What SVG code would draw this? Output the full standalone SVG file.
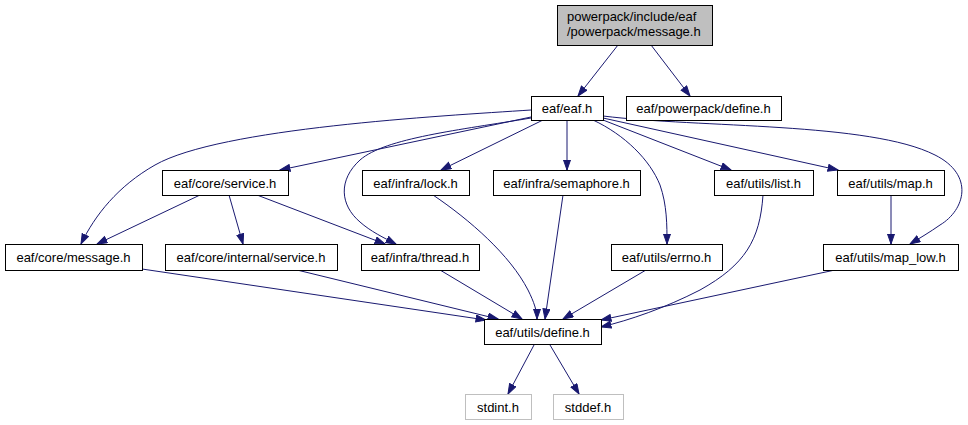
<svg xmlns="http://www.w3.org/2000/svg" width="968" height="425" viewBox="0 0 968 425">
<style>
.n rect{fill:#fff;stroke:#000;stroke-width:1}
.n text{font-family:"Liberation Sans",Arial,sans-serif;font-size:13px;fill:#000;text-anchor:middle}
.root rect{fill:#bfbfbf}
.root text{text-anchor:start}
.ext rect{stroke:#bfbfbf}
#edges path{fill:none;stroke:#191970;stroke-width:1;marker-end:url(#a)}
</style>
<defs>
<marker id="a" markerWidth="12" markerHeight="10" refX="10.5" refY="4" orient="auto" markerUnits="userSpaceOnUse">
<path d="M0.5,0.5L10.5,4L0.5,7.5z" fill="#191970" stroke="#191970" stroke-width="1"/>
</marker>
</defs>
<rect width="968" height="425" fill="#fff"/>
<g id="edges">
<path d="M618,45L578,96"/>
<path d="M651,45L690,96"/>
<path d="M531,110C440,116 220,128 155,165C118,186 95,215 81,244"/>
<path d="M531,117L280,170"/>
<path d="M531,118C460,130 385,138 360,160C338,180 340,205 360,222C370,231 384,238 396,244"/>
<path d="M543,120L441,170"/>
<path d="M567,120L567,170"/>
<path d="M593,120C625,135 650,160 660,185C667,205 667,225 667,244"/>
<path d="M603,120L731,170"/>
<path d="M603,118L838,170"/>
<path d="M603,116C700,128 870,122 935,155C975,175 965,210 940,225C930,232 920,238 910,244"/>
<path d="M891,195L891,244"/>
<path d="M200,195L97,244"/>
<path d="M229,195L243,244"/>
<path d="M257,195L385,244"/>
<path d="M142,269L486,320"/>
<path d="M297,270L498,319"/>
<path d="M440,270L522,319"/>
<path d="M433,195C470,220 510,255 528,290C534,302 537,311 537,319"/>
<path d="M563,195L545,319"/>
<path d="M646,270L563,319"/>
<path d="M763,195C760,240 745,265 700,290C665,308 630,320 601,327"/>
<path d="M835,270L601,320"/>
<path d="M534,345L508,394"/>
<path d="M550,345L579,394"/>
</g>
<g id="n-root" class="n root"><rect x="557.5" y="5.5" width="155" height="40"/><text x="567" y="21">powerpack/include/eaf</text><text x="567" y="36">/powerpack/message.h</text></g>
<g id="n-eaf" class="n"><rect x="531.5" y="96.5" width="72" height="24"/><text x="567" y="113">eaf/eaf.h</text></g>
<g id="n-ppdefine" class="n"><rect x="626.5" y="96.5" width="155" height="24"/><text x="703.5" y="113">eaf/powerpack/define.h</text></g>
<g id="n-service" class="n"><rect x="162.5" y="170.5" width="126" height="25"/><text x="225" y="187.5">eaf/core/service.h</text></g>
<g id="n-lock" class="n"><rect x="362.5" y="170.5" width="107" height="25"/><text x="415.5" y="187.5">eaf/infra/lock.h</text></g>
<g id="n-semaphore" class="n"><rect x="493.5" y="170.5" width="147" height="25"/><text x="566.5" y="187.5">eaf/infra/semaphore.h</text></g>
<g id="n-list" class="n"><rect x="714.5" y="170.5" width="99" height="25"/><text x="763.5" y="187.5">eaf/utils/list.h</text></g>
<g id="n-map" class="n"><rect x="837.5" y="170.5" width="107" height="25"/><text x="890.5" y="187.5">eaf/utils/map.h</text></g>
<g id="n-message" class="n"><rect x="5.5" y="244.5" width="137" height="26"/><text x="73.5" y="262">eaf/core/message.h</text></g>
<g id="n-internal" class="n"><rect x="165.5" y="244.5" width="172" height="26"/><text x="251" y="262">eaf/core/internal/service.h</text></g>
<g id="n-thread" class="n"><rect x="361.5" y="244.5" width="118" height="26"/><text x="420" y="262">eaf/infra/thread.h</text></g>
<g id="n-errno" class="n"><rect x="611.5" y="244.5" width="111" height="26"/><text x="666.5" y="262">eaf/utils/errno.h</text></g>
<g id="n-maplow" class="n"><rect x="823.5" y="244.5" width="135" height="26"/><text x="890.5" y="262">eaf/utils/map_low.h</text></g>
<g id="n-define" class="n"><rect x="484.5" y="319.5" width="117" height="25"/><text x="542.5" y="336.5">eaf/utils/define.h</text></g>
<g id="n-stdint" class="n ext"><rect x="465.5" y="394.5" width="66" height="25"/><text x="498" y="411.5">stdint.h</text></g>
<g id="n-stddef" class="n ext"><rect x="553.5" y="394.5" width="70" height="25"/><text x="588" y="411.5">stddef.h</text></g>
</svg>
